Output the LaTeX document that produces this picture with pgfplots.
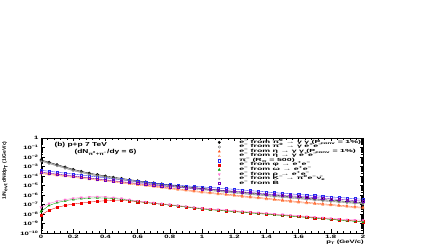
\documentclass[border=0pt]{standalone}
\usepackage{fontspec}
\setmainfont{Liberation Sans}
\newfontfamily\legfont{Liberation Sans}[FakeStretch=2.0]
\newfontfamily\tickfont{Liberation Sans}[FakeStretch=1.6]
\newfontfamily\txtfont{Liberation Sans}[FakeStretch=1.45]
\usepackage{pgfplots}
\usepackage{pgfplotstable}
\pgfplotsset{compat=1.18}
\definecolor{cBlue}{RGB}{40,40,240}
\definecolor{cOrange}{RGB}{255,85,30}
\definecolor{cOrangeB}{RGB}{255,135,80}
\definecolor{cRed}{RGB}{240,0,0}
\definecolor{cGreen}{RGB}{0,160,0}
\definecolor{cPink}{RGB}{255,110,210}
\definecolor{cPurple}{RGB}{110,0,190}
\definecolor{cGray}{RGB}{150,150,150}

\pgfplotstableread{
pt black dalitz kaon blue purple eta etad
0.00 5.01e-3 4.01e-3 3.51e-3 3.98e-4 2.51e-4 2.24e-4 1.79e-4
0.05 2.82e-3 2.26e-3 1.97e-3 3.16e-4 2.00e-4 1.78e-4 1.42e-4
0.10 1.58e-3 1.26e-3 1.11e-3 2.51e-4 1.58e-4 1.41e-4 1.13e-4
0.15 8.91e-4 7.13e-4 6.24e-4 2.00e-4 1.26e-4 1.12e-4 8.96e-5
0.20 5.01e-4 4.01e-4 3.51e-4 1.58e-4 1.00e-4 8.91e-5 7.13e-5
0.25 3.16e-4 2.53e-4 2.21e-4 1.26e-4 7.94e-5 7.08e-5 5.66e-5
0.30 2.00e-4 1.60e-4 1.40e-4 1.00e-4 6.31e-5 5.62e-5 4.50e-5
0.35 1.41e-4 1.13e-4 9.87e-5 7.94e-5 5.01e-5 4.47e-5 3.58e-5
0.40 1.00e-4 8.00e-5 7.00e-5 6.31e-5 3.98e-5 3.55e-5 2.84e-5
0.45 7.41e-5 5.93e-5 5.19e-5 5.01e-5 3.16e-5 2.82e-5 2.26e-5
0.50 5.62e-5 4.50e-5 3.93e-5 4.07e-5 2.57e-5 2.24e-5 1.79e-5
0.55 4.17e-5 3.34e-5 2.92e-5 3.24e-5 2.04e-5 1.78e-5 1.42e-5
0.60 3.16e-5 2.53e-5 2.21e-5 2.63e-5 1.66e-5 1.41e-5 1.13e-5
0.65 2.40e-5 1.92e-5 1.68e-5 2.14e-5 1.35e-5 1.12e-5 8.96e-6
0.70 1.86e-5 1.49e-5 1.30e-5 1.78e-5 1.12e-5 8.91e-6 7.13e-6
0.75 1.45e-5 1.16e-5 1.02e-5 1.45e-5 9.12e-6 7.08e-6 5.66e-6
0.80 1.12e-5 8.96e-6 7.84e-6 1.20e-5 7.59e-6 5.62e-6 4.50e-6
0.85 9.12e-6 7.30e-6 6.38e-6 1.05e-5 6.61e-6 4.47e-6 3.58e-6
0.90 7.41e-6 5.93e-6 5.19e-6 9.12e-6 5.75e-6 3.55e-6 2.84e-6
0.95 6.03e-6 4.82e-6 4.22e-6 7.94e-6 5.01e-6 2.82e-6 2.26e-6
1.00 5.01e-6 4.01e-6 3.51e-6 7.08e-6 4.47e-6 2.24e-6 1.79e-6
1.05 4.07e-6 3.26e-6 2.85e-6 6.17e-6 3.89e-6 1.82e-6 1.46e-6
1.10 3.31e-6 2.65e-6 2.32e-6 5.37e-6 3.39e-6 1.48e-6 1.18e-6
1.15 2.69e-6 2.15e-6 1.88e-6 4.57e-6 2.88e-6 1.23e-6 9.84e-7
1.20 2.24e-6 1.79e-6 1.57e-6 3.98e-6 2.51e-6 1.00e-6 8.00e-7
1.25 1.91e-6 1.53e-6 1.34e-6 3.39e-6 2.14e-6 8.13e-7 6.50e-7
1.30 1.58e-6 1.26e-6 1.11e-6 2.88e-6 1.82e-6 6.61e-7 5.29e-7
1.35 1.32e-6 1.06e-6 9.24e-7 2.45e-6 1.55e-6 5.50e-7 4.40e-7
1.40 1.12e-6 8.96e-7 7.84e-7 2.09e-6 1.32e-6 4.47e-7 3.58e-7
1.45 9.33e-7 7.46e-7 6.53e-7 1.78e-6 1.12e-6 3.63e-7 2.90e-7
1.50 7.94e-7 6.35e-7 5.56e-7 1.51e-6 9.55e-7 2.95e-7 2.36e-7
1.55 6.61e-7 5.29e-7 4.63e-7 1.32e-6 8.32e-7 2.45e-7 1.96e-7
1.60 5.62e-7 4.50e-7 3.93e-7 1.12e-6 7.08e-7 2.00e-7 1.60e-7
1.65 4.68e-7 3.74e-7 3.28e-7 9.77e-7 6.17e-7 1.66e-7 1.33e-7
1.70 3.98e-7 3.18e-7 2.79e-7 8.51e-7 5.37e-7 1.41e-7 1.13e-7
1.75 3.31e-7 2.65e-7 2.32e-7 7.24e-7 4.57e-7 1.17e-7 9.36e-8
1.80 2.82e-7 2.26e-7 1.97e-7 6.31e-7 3.98e-7 1.00e-7 8.00e-8
1.85 2.45e-7 1.96e-7 1.72e-7 5.50e-7 3.47e-7 8.32e-8 6.66e-8
1.90 2.09e-7 1.67e-7 1.46e-7 4.79e-7 3.02e-7 7.08e-8 5.66e-8
1.95 1.82e-7 1.46e-7 1.27e-7 4.07e-7 2.57e-7 5.89e-8 4.71e-8
2.00 1.58e-7 1.26e-7 1.11e-7 3.55e-7 2.24e-7 5.01e-8 4.01e-8
}\upperdata

\pgfplotstableread{
pt phi omega rho
0.00 7.94e-9 1.78e-8 5.01e-8
0.05 2.51e-8 7.94e-8 1.26e-7
0.10 5.01e-8 1.58e-7 2.24e-7
0.15 7.94e-8 2.51e-7 3.31e-7
0.20 1.12e-7 3.39e-7 4.47e-7
0.25 1.41e-7 4.17e-7 5.50e-7
0.30 1.78e-7 4.79e-7 6.31e-7
0.35 2.14e-7 5.01e-7 6.61e-7
0.40 2.51e-7 4.79e-7 6.31e-7
0.45 2.82e-7 4.27e-7 5.37e-7
0.50 2.82e-7 3.55e-7 4.27e-7
0.55 2.40e-7 2.82e-7 3.16e-7
0.60 2.00e-7 2.09e-7 2.40e-7
0.65 1.62e-7 1.66e-7 1.91e-7
0.70 1.32e-7 1.32e-7 1.51e-7
0.75 1.07e-7 1.07e-7 1.20e-7
0.80 8.71e-8 8.71e-8 1.00e-7
0.85 7.08e-8 7.08e-8 7.94e-8
0.90 5.75e-8 5.62e-8 6.31e-8
0.95 4.47e-8 4.47e-8 5.01e-8
1.00 3.55e-8 3.55e-8 3.98e-8
1.05 3.02e-8 2.80e-8 3.40e-8
1.10 2.57e-8 2.45e-8 3.00e-8
1.15 2.24e-8 2.05e-8 2.60e-8
1.20 1.91e-8 1.80e-8 2.20e-8
1.25 1.62e-8 1.50e-8 1.90e-8
1.30 1.38e-8 1.30e-8 1.60e-8
1.35 1.20e-8 1.10e-8 1.40e-8
1.40 1.02e-8 9.60e-9 1.20e-8
1.45 8.71e-9 8.00e-9 1.00e-8
1.50 7.41e-9 7.00e-9 8.80e-9
1.55 6.46e-9 5.90e-9 7.60e-9
1.60 5.50e-9 5.20e-9 6.40e-9
1.65 4.68e-9 4.30e-9 5.60e-9
1.70 3.98e-9 3.70e-9 4.70e-9
1.75 3.47e-9 3.20e-9 4.10e-9
1.80 2.95e-9 2.70e-9 3.50e-9
1.85 2.51e-9 2.30e-9 3.00e-9
1.90 2.14e-9 2.00e-9 2.60e-9
1.95 1.86e-9 1.70e-9 2.40e-9
2.00 1.58e-9 1.45e-9 2.20e-9
}\lowerdata

\begin{document}
\bfseries
\begin{tikzpicture}
\useasboundingbox (0pt,0pt) rectangle (436pt,245pt);
\begin{axis}[
  at={(41pt,12pt)}, anchor=south west,
  scale only axis, width=322pt, height=95pt,
  xmin=0, xmax=2, ymode=log, ymin=1e-10, ymax=1,
  axis line style={line width=0.5pt},
  xtick={0,0.2,0.4,0.6,0.8,1,1.2,1.4,1.6,1.8,2},
  xticklabels={0,0.2,0.4,0.6,0.8,1,1.2,1.4,1.6,1.8,2},
  minor x tick num=4,
  ytick={1e-10,1e-9,1e-8,1e-7,1e-6,1e-5,1e-4,1e-3,1e-2,1e-1,1},
  yticklabels={10\textsuperscript{−10},10\textsuperscript{−9},10\textsuperscript{−8},10\textsuperscript{−7},10\textsuperscript{−6},10\textsuperscript{−5},10\textsuperscript{−4},10\textsuperscript{−3},10\textsuperscript{−2},10\textsuperscript{−1},1},
  minor ytick={2e-10,3e-10,4e-10,5e-10,6e-10,7e-10,8e-10,9e-10,
    2e-9,3e-9,4e-9,5e-9,6e-9,7e-9,8e-9,9e-9,
    2e-8,3e-8,4e-8,5e-8,6e-8,7e-8,8e-8,9e-8,
    2e-7,3e-7,4e-7,5e-7,6e-7,7e-7,8e-7,9e-7,
    2e-6,3e-6,4e-6,5e-6,6e-6,7e-6,8e-6,9e-6,
    2e-5,3e-5,4e-5,5e-5,6e-5,7e-5,8e-5,9e-5,
    2e-4,3e-4,4e-4,5e-4,6e-4,7e-4,8e-4,9e-4,
    2e-3,3e-3,4e-3,5e-3,6e-3,7e-3,8e-3,9e-3,
    2e-2,3e-2,4e-2,5e-2,6e-2,7e-2,8e-2,9e-2,
    0.2,0.3,0.4,0.5,0.6,0.7,0.8,0.9},
  tick align=inside,
  major tick length=3.5pt, minor tick length=1.8pt,
  tick style={line width=0.4pt, black},
  tick label style={font=\tickfont\fontsize{4.8}{5.5}\selectfont\bfseries},
  xticklabel style={yshift=1pt},
  yticklabel style={xshift=1pt},
  legend style={at={(0.535,0.977)}, anchor=north west, draw=none, fill=none,
    font=\legfont\fontsize{4.4}{4.4}\selectfont\bfseries, inner sep=0pt, outer sep=0pt,
    row sep=0pt, nodes={inner sep=0pt, text height=3.0pt, text depth=1.55pt}},
  legend cell align=left,
  legend image code/.code={\draw[mark repeat=2,mark phase=2] plot coordinates {(6pt,0pt) (6pt,0pt) (6pt,0pt)}; \path[draw=none,fill=none] (0pt,-1pt) rectangle (26pt,1pt);},
  every axis plot/.append style={line width=0.35pt, mark size=1.25pt},
]
\addplot[black, mark=*] table[x=pt,y=black]{\upperdata};
\addlegendentry{e\textsuperscript{−} from π\textsuperscript{0} → γ γ (P\textsubscript{conv} = 1\%)}
\addplot[black!60, mark=o, mark options={fill=white}] table[x=pt,y=dalitz]{\upperdata};
\addlegendentry{e\textsuperscript{−} from π\textsuperscript{0} → γ e\textsuperscript{+}e\textsuperscript{−}}
\addplot[cOrange, mark=triangle*] table[x=pt,y=eta]{\upperdata};
\addlegendentry{e\textsuperscript{−} from η → γ γ (P\textsubscript{conv} = 1\%)}
\addplot[cOrangeB, mark=triangle, mark options={fill=white}] table[x=pt,y=etad]{\upperdata};
\addlegendentry{e\textsuperscript{−} from η → γ e\textsuperscript{+}e\textsuperscript{−}}
\addplot[cBlue, mark=square, mark size=1.1pt] table[x=pt,y=blue]{\upperdata};
\addlegendentry{π\textsuperscript{−} (R\textsubscript{π} = 500)}
\addplot[cRed, mark=square*, mark size=1.1pt] table[x=pt,y=phi]{\lowerdata};
\addlegendentry{e\textsuperscript{−} from φ → e\textsuperscript{+}e\textsuperscript{−}}
\addplot[cGreen, mark=triangle*] table[x=pt,y=omega]{\lowerdata};
\addlegendentry{e\textsuperscript{−} from ω → e\textsuperscript{+}e\textsuperscript{−}}
\addplot[cPink, mark=triangle*, mark options={rotate=180}] table[x=pt,y=rho]{\lowerdata};
\addlegendentry{e\textsuperscript{−} from ρ → e\textsuperscript{+}e\textsuperscript{−}}
\addplot[cGray, mark=star] table[x=pt,y=kaon]{\upperdata};
\addlegendentry{e\textsuperscript{−} from K\textsuperscript{−} → π\textsuperscript{0}e\textsuperscript{−}\=ν\textsubscript{e}}
\addplot[cPurple, mark=square, mark size=1.1pt] table[x=pt,y=purple]{\upperdata};
\addlegendentry{e\textsuperscript{−} from \=B}
\end{axis}
\node[rotate=90, anchor=east, font=\fontsize{5}{6}\selectfont\bfseries] at (5pt,107pt) {1/N\textsubscript{evt} dN/dp\textsubscript{T} (1/GeV/c)};
\node[anchor=west, font=\txtfont\fontsize{5.8}{6.5}\selectfont\bfseries] at (51pt,100pt) {(b) p+p 7 TeV};
\node[anchor=west, font=\txtfont\fontsize{5.8}{6.5}\selectfont\bfseries] at (71pt,93pt) {(dN\textsubscript{π\textsuperscript{0}+π\textsuperscript{−}}/dy = 6)};
\node[anchor=south east, inner sep=0pt, font=\tickfont\fontsize{4.8}{5.5}\selectfont\bfseries] at (364pt,0.3pt) {p\textsubscript{T} (GeV/c)};
\end{tikzpicture}
\end{document}
